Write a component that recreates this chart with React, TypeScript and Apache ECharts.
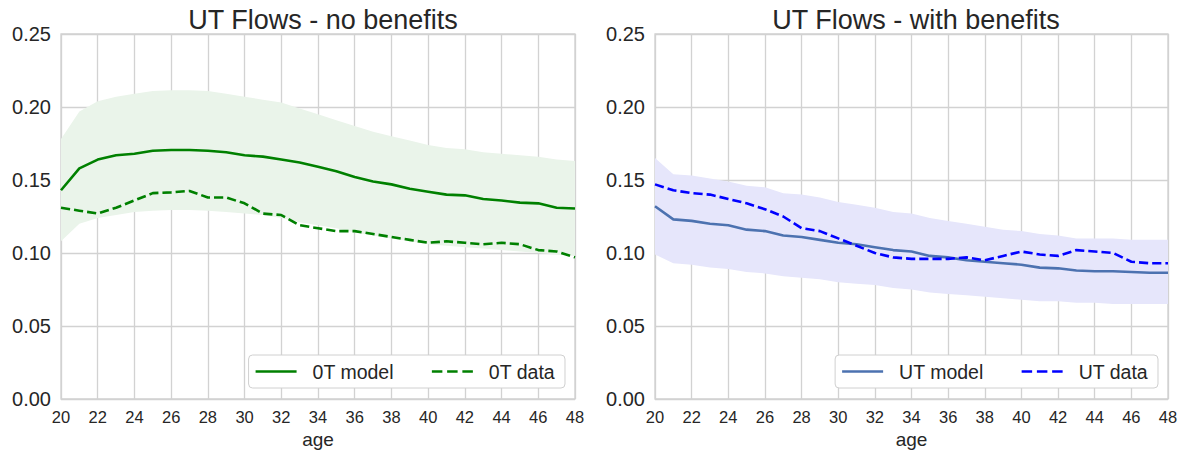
import React, { useEffect, useRef } from "react";
import * as echarts from "echarts";

const ages = [20, 21, 22, 23, 24, 25, 26, 27, 28, 29, 30, 31, 32, 33, 34, 35, 36, 37, 38, 39, 40, 41, 42, 43, 44, 45, 46, 47, 48];

const otModel = [0.143, 0.158, 0.164, 0.167, 0.168, 0.170, 0.1705, 0.1705, 0.170, 0.169, 0.167, 0.166, 0.164, 0.162, 0.159, 0.156, 0.152, 0.149, 0.147, 0.144, 0.142, 0.140, 0.1395, 0.137, 0.136, 0.1345, 0.134, 0.131, 0.1305];
const otData = [0.131, 0.129, 0.127, 0.131, 0.136, 0.141, 0.1415, 0.1425, 0.138, 0.138, 0.134, 0.127, 0.126, 0.119, 0.117, 0.115, 0.115, 0.113, 0.111, 0.109, 0.107, 0.108, 0.107, 0.106, 0.107, 0.106, 0.102, 0.101, 0.097];
const otUpper = [0.178, 0.197, 0.204, 0.207, 0.209, 0.211, 0.2115, 0.2115, 0.211, 0.209, 0.207, 0.205, 0.203, 0.199, 0.195, 0.191, 0.187, 0.183, 0.180, 0.177, 0.174, 0.172, 0.171, 0.169, 0.168, 0.167, 0.166, 0.164, 0.163];
const otLower = [0.108, 0.120, 0.124, 0.126, 0.128, 0.129, 0.1295, 0.1295, 0.129, 0.128, 0.127, 0.126, 0.124, 0.121, 0.119, 0.117, 0.114, 0.112, 0.110, 0.108, 0.106, 0.105, 0.104, 0.103, 0.102, 0.101, 0.100, 0.099, 0.098];

const utModel = [0.132, 0.123, 0.122, 0.120, 0.119, 0.116, 0.115, 0.112, 0.111, 0.109, 0.107, 0.106, 0.104, 0.102, 0.101, 0.098, 0.097, 0.095, 0.094, 0.093, 0.092, 0.090, 0.0895, 0.088, 0.0875, 0.0875, 0.087, 0.0865, 0.0865];
const utData = [0.147, 0.143, 0.141, 0.140, 0.137, 0.134, 0.130, 0.125, 0.117, 0.115, 0.110, 0.105, 0.100, 0.097, 0.096, 0.096, 0.096, 0.097, 0.095, 0.098, 0.101, 0.099, 0.098, 0.102, 0.101, 0.100, 0.094, 0.093, 0.093];
const utUpper = [0.165, 0.154, 0.153, 0.151, 0.149, 0.146, 0.145, 0.141, 0.140, 0.138, 0.135, 0.133, 0.131, 0.128, 0.127, 0.124, 0.122, 0.120, 0.118, 0.116, 0.115, 0.113, 0.112, 0.110, 0.110, 0.110, 0.109, 0.109, 0.109];
const utLower = [0.099, 0.093, 0.092, 0.090, 0.089, 0.087, 0.086, 0.084, 0.083, 0.082, 0.080, 0.079, 0.078, 0.076, 0.075, 0.073, 0.072, 0.071, 0.070, 0.069, 0.068, 0.067, 0.067, 0.066, 0.066, 0.065, 0.065, 0.065, 0.065];

const yTicks = [0, 0.05, 0.1, 0.15, 0.2, 0.25];

const titles = ["UT Flows - no benefits", "UT Flows - with benefits"];

const FONT = "Liberation Sans, Arial, sans-serif";
const TEXT = "#262626";
const GRID = "#d2d2d2";

// legend glyphs: a solid stroke and a three-dash stroke, both 41 units wide
const SOLID_ICON = "path://M0,0H41V2.6H0Z";
const DASH_ICON = "path://M0,0H10.5V2.6H0Z M15.25,0H25.75V2.6H15.25Z M30.5,0H41V2.6H30.5Z";

const diffs = (hi: number[], lo: number[]) => hi.map((h, i) => +(h - lo[i]).toFixed(5));

export default function App() {
  const ref = useRef<HTMLDivElement>(null);

  useEffect(() => {
    if (!ref.current) return;
    const chart = echarts.init(ref.current, undefined, { renderer: "svg" });

    const grids = [
      { left: 61, right: 612, top: 34, bottom: 54 },
      { left: 655, right: 19, top: 34, bottom: 54 },
    ];

    const xAxis = grids.map((_, i) => ({
      type: "category",
      gridIndex: i,
      data: ages.map(String),
      boundaryGap: false,
      name: "age",
      nameLocation: "middle",
      nameGap: 31,
      nameTextStyle: { fontSize: 19, color: TEXT, fontFamily: FONT },
      axisLine: { show: false },
      axisTick: { show: false },
      axisLabel: { interval: 1, fontSize: 16.5, color: TEXT, fontFamily: FONT, margin: 9 },
      splitLine: { show: true, interval: 1, lineStyle: { color: GRID, width: 1.3 } },
    }));

    const yAxis = grids.map((_, i) => ({
      type: "value",
      gridIndex: i,
      min: 0,
      max: 0.25,
      interval: 0.05,
      axisLine: { show: false },
      axisTick: { show: false },
      axisLabel: {
        fontSize: 20,
        color: TEXT,
        fontFamily: FONT,
        margin: 10,
        formatter: (v: number) => {
          const t = yTicks.find((k) => Math.abs(k - v) < 1e-9);
          return (t ?? v).toFixed(2);
        },
      },
      splitLine: { show: true, lineStyle: { color: GRID, width: 1.3 } },
    }));

    const band = (idx: number, lo: number[], hi: number[], color: string, key: string) => [
      {
        name: key + "-lo",
        type: "line",
        xAxisIndex: idx,
        yAxisIndex: idx,
        stack: key,
        data: lo,
        symbol: "none",
        lineStyle: { opacity: 0 },
        silent: true,
        z: 1,
      },
      {
        name: key + "-hi",
        type: "line",
        xAxisIndex: idx,
        yAxisIndex: idx,
        stack: key,
        data: diffs(hi, lo),
        symbol: "none",
        lineStyle: { opacity: 0 },
        areaStyle: { color, opacity: 1 },
        silent: true,
        z: 1,
      },
    ];

    const line = (idx: number, name: string, vals: number[], color: string, dashed: boolean) => ({
      name,
      type: "line",
      xAxisIndex: idx,
      yAxisIndex: idx,
      data: vals,
      symbol: "none",
      lineStyle: { color, width: 2.6, type: dashed ? [9.2, 4] : "solid" },
      itemStyle: { color },
      z: 3,
    });

    const legendBase = {
      orient: "horizontal",
      top: 355,
      itemWidth: 41,
      itemHeight: 14,
      itemGap: 38,
      padding: [6, 10, 6, 7],
      backgroundColor: "#ffffff",
      borderColor: "#d0d0d0",
      borderWidth: 1,
      borderRadius: 4,
      textStyle: { fontSize: 19.5, color: TEXT, fontFamily: FONT, padding: [0, 0, 0, 11], lineHeight: 21 },
    };

    chart.setOption({
      animation: false,
      backgroundColor: "#ffffff",
      title: titles.map((t, i) => ({
        text: t,
        left: i === 0 ? 318 : 911,
        textAlign: "center",
        top: 1,
        textStyle: { fontSize: 27, fontWeight: "normal", color: TEXT, fontFamily: FONT },
      })),
      grid: grids.map((g) => ({ ...g, show: true, borderColor: GRID, borderWidth: 1.3, backgroundColor: "transparent" })),
      xAxis,
      yAxis,
      legend: [
        {
          ...legendBase,
          right: 622,
          data: [
            { name: "0T model", icon: SOLID_ICON },
            { name: "0T data", icon: DASH_ICON },
          ],
        },
        {
          ...legendBase,
          right: 29,
          data: [
            { name: "UT model", icon: SOLID_ICON },
            { name: "UT data", icon: DASH_ICON },
          ],
        },
      ],
      series: [
        ...band(0, otLower, otUpper, "#eaf4ea", "otBand"),
        line(0, "0T model", otModel, "#008000", false),
        line(0, "0T data", otData, "#008000", true),
        ...band(1, utLower, utUpper, "#e6e6fb", "utBand"),
        line(1, "UT model", utModel, "#4c72b0", false),
        line(1, "UT data", utData, "#0000ff", true),
      ],
    });

    return () => chart.dispose();
  }, []);

  return (
    <div
      ref={ref}
      style={{ position: "fixed", left: 0, top: 0, width: 1187, height: 454, background: "#fff" }}
    />
  );
}
